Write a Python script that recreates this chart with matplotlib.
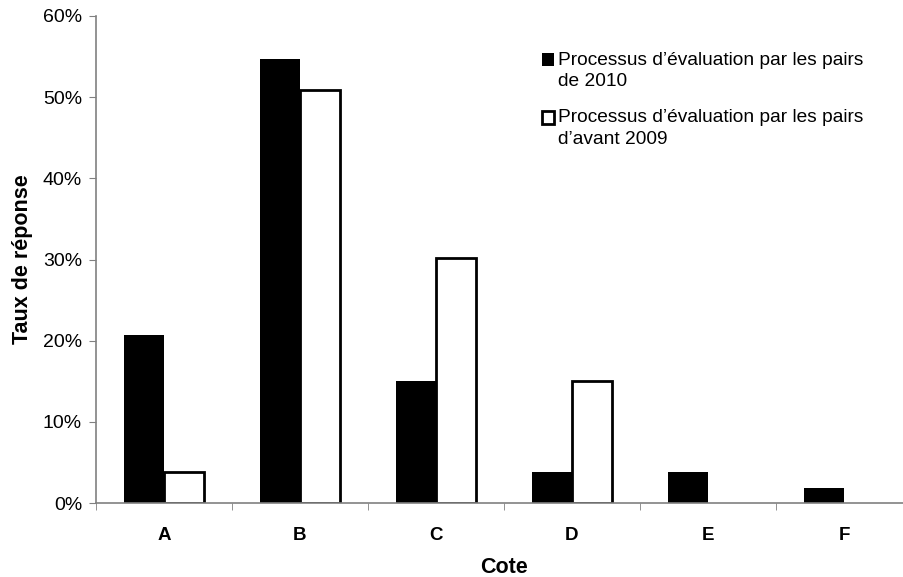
import numpy as np
import matplotlib.pyplot as plt
from matplotlib.patches import Rectangle
from matplotlib.container import BarContainer
from matplotlib.legend_handler import HandlerPatch
from matplotlib.ticker import PercentFormatter

plt.rcParams['font.family'] = ['Liberation Sans', 'DejaVu Sans']

# Rating categories and response rates (%)
categories = ['A', 'B', 'C', 'D', 'E', 'F']
rates_2010 = [20.75, 54.72, 15.09, 3.77, 3.77, 1.89]
rates_pre2009 = [3.77, 50.94, 30.19, 15.09, 0.0, 0.0]
labels = ['Processus d\u2019évaluation par les pairs\nde 2010',
          'Processus d\u2019évaluation par les pairs\nd\u2019avant 2009']

fig = plt.figure(figsize=(9.04, 5.77), dpi=100)
ax = fig.add_axes([96 / 904, 1 - 503 / 577, 816 / 904, 487 / 577])

x = np.arange(len(categories))
w = 0.294
ax.bar(x - w / 2, rates_2010, w, color='black', edgecolor='black', linewidth=0, label=labels[0])
pre = np.array(rates_pre2009)
ax.bar(x[pre > 0] + w / 2, pre[pre > 0], w, color='white', edgecolor='black', linewidth=2,
       label=labels[1])

ax.set_xlim(-0.5, 5.5)
ax.set_ylim(0, 60)
ax.set_yticks(np.arange(0, 61, 10))
ax.yaxis.set_major_formatter(PercentFormatter(decimals=0))
ax.set_xticks(x)
ax.set_xticklabels(categories, fontweight='bold', fontsize=13.5)
ax.set_xticks(np.arange(-0.5, 6, 1), minor=True)
ax.tick_params(axis='x', which='major', length=0, pad=17)
ax.tick_params(axis='x', which='minor', length=5, color='#808080', direction='out')
ax.tick_params(axis='y', length=5, color='#808080', labelsize=14, pad=5)

for side in ['top', 'right']:
    ax.spines[side].set_visible(False)
for side in ['left', 'bottom']:
    ax.spines[side].set_color('#808080')
    ax.spines[side].set_linewidth(1.2)

ax.set_xlabel('Cote', fontweight='bold', fontsize=15.5)
ax.set_ylabel('Taux de réponse', fontweight='bold', fontsize=15.5)
ax.yaxis.set_label_coords(-0.077, 0.5)
ax.xaxis.set_label_coords(0.5, -0.111)


# legend squares sit on the first text line, as in the original
def square_first_line(legend, orig_handle, xdescent, ydescent, width, height, fontsize):
    return Rectangle((-xdescent, -ydescent + 8), width, height)


def copy_style(handle, orig):
    handle.update_from(orig.patches[0])


leg = ax.legend(loc='upper left', bbox_to_anchor=(0.537, 0.942), frameon=False,
                fontsize=13.8, handlelength=0.65, handleheight=0.65, handletextpad=0.2,
                labelspacing=1.0, borderaxespad=0,
                handler_map={BarContainer: HandlerPatch(patch_func=square_first_line,
                                                        update_func=copy_style)})
for t in leg.get_texts():
    t.set_linespacing(1.33)

fig.savefig('out.png', dpi=100)
